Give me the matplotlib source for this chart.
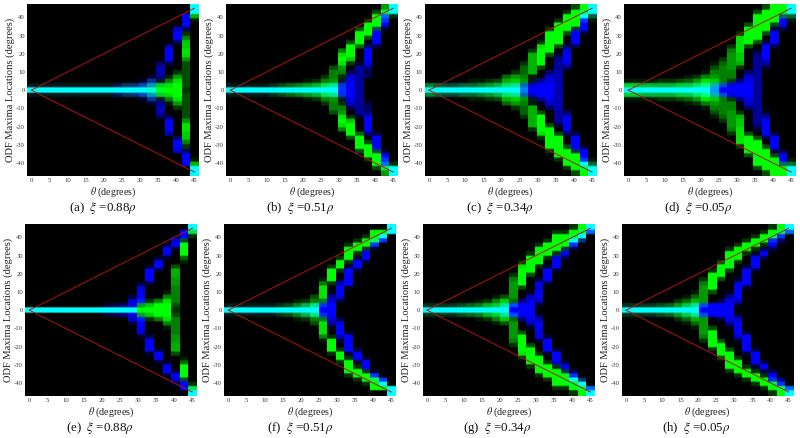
import numpy as np
import matplotlib
matplotlib.use("Agg")
import matplotlib.pyplot as plt

plt.rcParams['font.family'] = ['Liberation Serif', 'DejaVu Serif']
plt.rcParams['mathtext.fontset'] = 'stix'
plt.rcParams['axes.unicode_minus'] = False

captions = ["(a)  $\\xi$ =0.88$\\rho$", "(b)  $\\xi$ =0.51$\\rho$", "(c)  $\\xi$ =0.34$\\rho$", "(d)  $\\xi$ =0.05$\\rho$",
            "(e)  $\\xi$ =0.88$\\rho$", "(f)  $\\xi$ =0.51$\\rho$", "(g)  $\\xi$ =0.34$\\rho$", "(h)  $\\xi$ =0.05$\\rho$"]
x_ticks = list(range(0, 50, 5))
y_ticks = list(range(-40, 50, 10))
ridge_theta = [0, 45]
ridge_phi = [0, 45]

# Intensity (tenths) per theta column: column -> (first row away from zero, values outward)
blue_a = {**{c: (0, [10, 1]) for c in range(0, 10)}, 10: (0, [10, 3]), 11: (0, [10, 4]), 12: (0, [10, 5]), 13: (0, [10, 7, 2]),
          14: (0, [8, 7, 6, 2]), 15: (0, [1, 2, 1, 6, 7, 7, 4]), 16: (6, [3, 10, 10, 10, 7]), 17: (11, [4, 10, 10, 8]),
          18: (14, [4, 10, 10, 10]), 19: (18, [10, 10])}
green_a = {**{c: (0, [10, 1]) for c in range(0, 11)}, 11: (0, [10, 2]), 12: (0, [10, 2]), 13: (0, [10, 3]), 14: (0, [10, 6, 2]),
           15: (0, [10, 8, 1]), 16: (0, [10, 9, 5, 1]), 17: (0, [10, 10, 9, 6, 2]),
           18: (0, [2, 3, 3, 3, 3, 3, 3, 6, 9, 9, 8, 8, 5, 2]), 19: (16, [1, 7, 10, 10])}

blue_b = {**{c: (0, [10, 1]) for c in range(0, 10)}, 10: (0, [10, 2]), 11: (0, [10, 3]), 12: (0, [10, 6]), 13: (0, [10, 9, 2]),
          14: (0, [10, 10, 9, 8, 3]), 15: (0, [6, 6, 6, 6, 6, 6, 2]), 16: (3, [3, 3, 5, 9, 10, 10, 10, 5]),
          17: (10, [3, 10, 10, 10, 3]), 18: (14, [2, 10, 10, 10, 2]), 19: (18, [10, 10])}
green_b = {**{c: (0, [10, 1]) for c in range(0, 5)}, 5: (0, [10, 2]), 6: (0, [10, 3]), 7: (0, [10, 4]), 8: (0, [10, 5]),
           9: (0, [10, 6, 1]), 10: (0, [10, 7, 2]), 11: (0, [10, 9, 5, 2]), 12: (0, [10, 9, 6, 5, 5, 3]),
           13: (0, [2, 2, 1, 2, 5, 6, 9, 10, 9, 5]), 14: (6, [2, 8, 10, 10, 10, 3]), 15: (10, [4, 10, 10, 10, 3]),
           16: (12, [3, 10, 10, 10, 2]), 17: (14, [3, 10, 10, 10, 3]), 18: (16, [2, 4, 10, 6]), 19: (17, [2, 10, 10])}

blue_c = {**{c: (0, [10, 2]) for c in range(0, 8)}, 8: (0, [10, 3]), 9: (0, [10, 4]), 10: (0, [10, 6]), 11: (0, [10, 7]),
          12: (0, [10, 8, 1]), 13: (0, [10, 10, 6, 1]), 14: (0, [10, 10, 9, 8, 4]), 15: (0, [7, 7, 7, 7, 7, 6, 6, 6, 2]),
          16: (5, [4, 9, 10, 10, 9, 4]), 17: (10, [3, 10, 10, 10, 3]), 18: (13, [2, 10, 10, 10, 10, 3]), 19: (17, [2, 10, 10])}
green_c = {0: (0, [10, 5]), 1: (0, [10, 4]), 2: (0, [10, 3]), 3: (0, [10, 3]), 4: (0, [10, 4]), 5: (0, [10, 4, 1]), 6: (0, [10, 5, 1]),
           7: (0, [10, 6, 2]), 8: (0, [10, 7, 3]), 9: (0, [10, 9, 7, 4]), 10: (0, [10, 9, 8, 6, 2]), 11: (0, [5, 4, 6, 5, 4, 4, 2]),
           12: (2, [1, 1, 7, 7, 7, 7, 7, 2]), 13: (5, [3, 10, 10, 10, 10, 9, 2]), 14: (8, [3, 10, 10, 10, 10, 10, 2]),
           15: (10, [3, 10, 10, 10, 10, 10, 2]), 16: (13, [3, 10, 10, 10, 10, 2]), 17: (14, [2, 10, 10, 10, 10, 3]),
           18: (16, [2, 10, 10, 10, 10]), 19: (16, [1, 4, 10, 10])}

blue_d = {**{c: (0, [10, 2]) for c in range(0, 7)}, 7: (0, [10, 3]), 8: (0, [10, 4]), 9: (0, [10, 5]), 10: (0, [10, 7]), 11: (0, [10, 8]),
          12: (0, [10, 9, 1]), 13: (0, [10, 10, 5, 1]), 14: (0, [10, 10, 9, 8, 4]), 15: (0, [6, 6, 6, 6, 6, 6, 6, 6, 5, 2]),
          16: (5, [2, 6, 9, 10, 10, 10, 3]), 17: (10, [3, 10, 10, 10, 3]), 18: (14, [3, 10, 10, 4]), 19: (17, [2, 10, 10])}
green_d = {0: (0, [10, 8, 1]), 1: (0, [10, 8, 1]), 2: (0, [10, 7, 1]), 3: (0, [10, 7, 1]), 4: (0, [10, 7, 2]), 5: (0, [10, 7, 2]),
           6: (0, [10, 8, 3]), 7: (0, [10, 8, 4, 1]), 8: (0, [10, 9, 6, 2]), 9: (0, [10, 10, 9, 5, 1]), 10: (0, [6, 7, 8, 6, 5, 3, 1]),
           11: (1, [3, 5, 5, 5, 5, 4, 2]), 12: (2, [2, 5, 5, 6, 6, 6, 6, 5, 2]), 13: (5, [2, 7, 8, 8, 9, 9, 9, 9, 2]),
           14: (10, [3, 10, 10, 10, 10, 3]), 15: (11, [3, 10, 10, 10, 10, 10, 10, 3]), 16: (13, [3, 10, 10, 10, 10, 10, 3]),
           17: (15, [3, 10, 10, 10, 10]), 18: (17, [4, 10, 10, 10]), 19: (16, [1, 4, 10, 10])}

blue_e = {**{c: (0, [10, 0]) for c in range(0, 9)}, 9: (0, [10, 2]), 10: (0, [10, 3]), 11: (0, [10, 5]), 12: (0, [10, 9, 8, 2]),
          13: (1, [2, 10, 10, 10, 8, 2]), 14: (6, [3, 10, 10, 10, 2]), 15: (9, [2, 10, 10, 2]), 16: (12, [2, 10, 10, 2]),
          17: (14, [2, 10, 8, 2]), 18: (16, [2, 10, 10]), 19: (18, [3, 10])}
green_e = {**{c: (0, [10, 0]) for c in range(0, 13)}, 13: (0, [10, 6, 1]), 14: (0, [10, 8, 2]), 15: (0, [10, 10, 5]),
           16: (0, [10, 10, 9, 5, 1]), 17: (0, [2, 3, 5, 5, 5, 5, 6, 6, 7, 7, 3]), 18: (11, [1, 4, 10, 10, 10, 3]), 19: (17, [2, 9, 10])}

blue_f = {**{c: (0, [10, 1]) for c in range(0, 9)}, 9: (0, [10, 3]), 10: (0, [10, 5]), 11: (0, [10, 9, 1]), 12: (0, [10, 10, 8, 6, 1]),
          13: (2, [3, 9, 10, 10, 7, 2]), 14: (5, [2, 10, 10, 10, 10, 2]), 15: (9, [2, 10, 10, 2]), 16: (11, [2, 10, 10, 2]),
          17: (14, [2, 10, 3]), 18: (16, [10, 10]), 19: (18, [10, 10])}
green_f = {**{c: (0, [10, 1]) for c in range(0, 6)}, 6: (0, [10, 2]), 7: (0, [10, 3]), 8: (0, [10, 5, 1]), 9: (0, [10, 7, 2]),
           10: (0, [10, 9, 5, 3]), 11: (1, [2, 5, 9, 9, 9, 5, 1]), 12: (6, [2, 10, 10, 10, 2]), 13: (9, [2, 10, 10, 2]),
           14: (11, [2, 10, 10, 10, 2]), 15: (13, [2, 10, 10, 2]), 16: (14, [2, 10, 10, 2]), 17: (15, [2, 10, 10, 10]),
           18: (16, [2, 10, 10]), 19: (18, [10, 10])}

blue_g = {**{c: (0, [10, 1]) for c in range(0, 8)}, 8: (0, [10, 2]), 9: (0, [10, 6]), 10: (0, [10, 10]), 11: (0, [10, 10, 5]),
          12: (0, [10, 10, 9, 7, 1]), 13: (1, [2, 7, 10, 10, 9, 9, 2]), 14: (6, [2, 10, 10, 10, 2]), 15: (9, [2, 10, 10, 9, 1]),
          16: (12, [3, 10, 3]), 17: (14, [3, 10, 9, 2]), 18: (16, [5, 10, 3]), 19: (18, [10, 10])}
green_g = {**{c: (0, [10, 2]) for c in range(0, 4)}, 4: (0, [10, 3]), 5: (0, [10, 4]), 6: (0, [10, 5, 1]), 7: (0, [10, 7, 2]),
           8: (0, [10, 8, 5, 1]), 9: (0, [10, 9, 8, 3]), 10: (1, [3, 4, 6, 6, 6, 6, 5, 2]), 11: (5, [3, 10, 10, 10, 10, 9, 2]),
           12: (8, [3, 10, 10, 10, 10, 2]), 13: (10, [2, 10, 10, 10, 10, 2]), 14: (12, [2, 10, 10, 10, 2]),
           15: (13, [2, 10, 10, 10, 10, 2]), 16: (14, [2, 10, 10, 10, 2]), 17: (15, [2, 10, 10, 10, 2]),
           18: (16, [2, 10, 10, 10]), 19: (18, [4, 10])}

blue_h = {**{c: (0, [10, 1]) for c in range(0, 7)}, 7: (0, [10, 3]), 8: (0, [10, 6]), 9: (0, [10, 9]), 10: (0, [10, 10]),
          11: (0, [10, 10, 3]), 12: (0, [10, 10, 9, 6, 1]), 13: (1, [2, 8, 10, 10, 10, 8, 2]), 14: (5, [2, 10, 10, 10, 10, 2]),
          15: (9, [2, 10, 10, 10, 2]), 16: (12, [3, 10, 3]), 17: (14, [3, 10, 9, 2]), 18: (16, [5, 10, 3]), 19: (18, [10, 10])}
green_h = {**{c: (0, [10, 2]) for c in range(0, 4)}, 4: (0, [10, 3]), 5: (0, [10, 4]), 6: (0, [10, 6, 2]), 7: (0, [10, 8, 4, 1]),
           8: (0, [10, 9, 7, 4, 1]), 9: (1, [3, 6, 6, 6, 6, 5, 2]), 10: (4, [3, 10, 10, 10, 10, 2]), 11: (7, [3, 10, 10, 10, 3]),
           12: (9, [3, 10, 10, 10, 10, 2]), 13: (11, [2, 10, 10, 10, 2]), 14: (13, [2, 10, 10, 2]), 15: (14, [2, 10, 10, 2]),
           16: (15, [2, 10, 10, 2]), 17: (16, [2, 10, 10, 2]), 18: (17, [2, 10, 10]), 19: (18, [4, 10])}

blues = [blue_a, blue_b, blue_c, blue_d, blue_e, blue_f, blue_g, blue_h]
greens = [green_a, green_b, green_c, green_d, green_e, green_f, green_g, green_h]

axes_px = [(27, 4.3, 199, 176), (226, 4.3, 397.7, 176), (424.7, 4.3, 596.7, 176), (624, 4.3, 795.7, 176),
           (25, 224.3, 197, 396), (224, 224.3, 396, 396), (422.7, 224.3, 595, 396), (621.7, 224.3, 793.3, 396)]
caption_px = [102.5, 300, 500, 698, 100, 300, 497, 696]

W, H = 800, 438
N_COL, N_ROW, STEP = 20, 21, 45 / 19
fine_y = np.linspace(-47.4, 47.4, 341)
# Rows read as soft-edged blocks: values hold across most of a row and change only near its edge
frac = np.abs(fine_y) / STEP
low = np.minimum(np.floor(frac).astype(int), N_ROW - 1)
high = np.minimum(low + 1, N_ROW - 1)
mix = np.clip((frac - low - 0.45) / 0.4, 0, 1)


def channel(spec):
    grid = np.zeros((fine_y.size, N_COL))
    for col, (first, vals) in spec.items():
        prof = np.zeros(N_ROW)
        prof[first:first + len(vals)] = np.array(vals) / 10
        if first + len(vals) >= 20:
            prof[20] = prof[19]
        grid[:, col] = prof[low] * (1 - mix) + prof[high] * mix
    return grid


fig = plt.figure(figsize=(W / 100, H / 100), dpi=100)
for i, (box, cap, cap_x) in enumerate(zip(axes_px, captions, caption_px)):
    x0, y0, x1, y1 = box
    ax = fig.add_axes([x0 / W, 1 - y1 / H, (x1 - x0) / W, (y1 - y0) / H])
    g = channel(greens[i])
    b = channel(blues[i])
    img = np.dstack([np.zeros_like(g), g, b])
    ax.imshow(img, origin='lower', aspect='auto', interpolation='nearest',
              extent=[-STEP / 2, 45 + STEP / 2, fine_y[0], fine_y[-1]])
    ax.plot(ridge_theta, ridge_phi, color='#b81414', lw=0.8, alpha=0.85)
    ax.plot(ridge_theta, [-v for v in ridge_phi], color='#b81414', lw=0.8, alpha=0.85)
    ax.set_xlim(-1.2, 46.3)
    ax.set_ylim(-47.2, 47.2)
    ax.set_xticks(x_ticks)
    ax.set_yticks(y_ticks)
    ax.tick_params(length=0, labelsize=4.8, pad=1.5, colors='#333333')
    for s in ax.spines.values():
        s.set_visible(False)
    ax.set_xlabel(r'$\theta$ (degrees)', fontsize=7.3, labelpad=2, color='#222222')
    ax.set_ylabel('ODF Maxima Locations (degrees)', fontsize=7.6, color='#222222')
    ax.yaxis.set_label_coords(-12 / 172, 0.5)
    fig.text(cap_x / W, 1 - (y1 + 32) / H, cap, ha='center', va='center', fontsize=9.3, color='#111111')

fig.savefig('out.png', dpi=100, facecolor='white')
